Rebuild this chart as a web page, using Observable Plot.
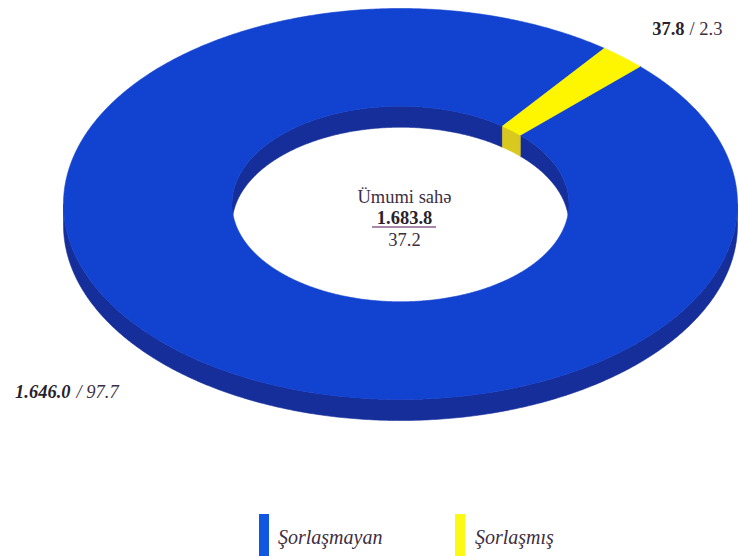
<!DOCTYPE html>
<html>
<head>
<meta charset="utf-8">
<script src="https://cdn.jsdelivr.net/npm/d3@7"></script>
<script src="https://cdn.jsdelivr.net/npm/@observablehq/plot@0.6"></script>
<style>
  html, body { margin: 0; padding: 0; background: #ffffff; }
  #chart { width: 739px; height: 556px; overflow: hidden; font-family: "Liberation Serif", "DejaVu Serif", serif; }
  #chart svg { display: block; }
</style>
</head>
<body>
<div id="chart"></div>
<script>
// ---------- data ----------
const categories = ["Şorlaşmayan", "Şorlaşmış"];
const areaValues = [1646.0, 37.8];          // min ha
const shareValues = [97.7, 2.3];            // %
const areaLabels = ["1.646.0", "37.8"];
const shareLabels = ["97.7", "2.3"];
const totalTitle = "Ümumi sahə";
const totalLabel = "1.683.8";
const totalShareLabel = "37.2";

// ---------- styles ----------
const topColors = ["#1242d0", "#fdf600"];
const sideColors = ["#152e9a", "#d9c81e"];
const legendColors = ["#1257e2", "#fcfa14"];
const textColor = "#3e2e42";
const boldColor = "#2a1f2d";
const font = "'Liberation Serif', 'DejaVu Serif', serif";

// ---------- layout (pixels) ----------
const W = 739, H = 500;
const cx = 400, cy = 203.5, rx = 337, ry = 195.5;
const thickPx = 21, innerR = 0.5, startDeg = 45.3;
const tU = thickPx / ry;
const ux = px => (px - cx) / rx;
const uy = py => (cy - py) / ry;

// ---------- geometry from data ----------
const total = d3.sum(areaValues);
let acc = startDeg;
const slices = categories.map((c, i) => {
  const a0 = acc;
  const a1 = acc + 360 * areaValues[i] / total;
  acc = a1;
  return {i, c, a0, a1};
});

const pt = (r, deg, drop) => {
  const t = deg * Math.PI / 180;
  return {x: r * Math.sin(t), y: r * Math.cos(t) - drop};
};
const arc = (r, from, to, drop) => {
  const n = Math.max(2, Math.ceil(Math.abs(to - from) / 0.5));
  return d3.range(n + 1).map(k => pt(r, from + (to - from) * k / n, drop));
};
const clip = (a0, a1, lo, hi) => {
  const out = [];
  for (let k = -2; k <= 3; k++) {
    const s = Math.max(a0, lo + 360 * k), e = Math.min(a1, hi + 360 * k);
    if (e > s) out.push([s, e]);
  }
  return out;
};

const polys = [];
let pid = 0;
function addPoly(points, fill) {
  const id = pid++;
  points.push(points[0]);
  points.forEach(p => polys.push({x: p.x, y: p.y, id, fill}));
}

// inner back wall (visible through hole, upper half)
slices.forEach(s => {
  clip(s.a0, s.a1, -90, 90).forEach(([b0, b1]) => {
    addPoly([...arc(innerR, b0, b1, 0), ...arc(innerR, b1, b0, tU)], sideColors[s.i]);
  });
});
// outer front side (lower half)
slices.forEach(s => {
  clip(s.a0, s.a1, 90, 270).forEach(([b0, b1]) => {
    addPoly([...arc(1, b0, b1, 0), ...arc(1, b1, b0, tU)], sideColors[s.i]);
  });
});
// top surface ring
slices.forEach(s => {
  addPoly([...arc(1, s.a0, s.a1, 0), ...arc(innerR, s.a1, s.a0, 0)], topColors[s.i]);
});

const txt = {fontFamily: font, fontSize: 18.5, lineAnchor: "bottom"};

const plot = Plot.plot({
  width: W, height: H,
  margin: 0,
  x: {domain: [-1, 1], range: [cx - rx, cx + rx], axis: null},
  y: {domain: [-1, 1], range: [cy + ry, cy - ry], axis: null},
  color: {type: "identity"},
  style: {background: "#ffffff", fontFamily: font},
  marks: [
    Plot.line(polys, {x: "x", y: "y", z: "id", fill: "fill", stroke: "fill", strokeWidth: 0.6, curve: "linear"}),
    // centre labels
    Plot.text([totalTitle], {...txt, x: () => 0, y: () => uy(202), dx: 4, text: d => d, fill: textColor, textAnchor: "middle"}),
    Plot.text([totalLabel], {...txt, x: () => 0, y: () => uy(223), dx: 4, text: d => d, fill: boldColor, fontWeight: "bold", textAnchor: "middle"}),
    Plot.ruleY([uy(226.5)], {y: d => d, x1: ux(372), x2: ux(436), stroke: "#8e5e8e", strokeWidth: 1.3}),
    Plot.text([totalShareLabel], {...txt, x: () => 0, y: () => uy(245), dx: 4, text: d => d, fill: textColor, textAnchor: "middle"}),
    // slice labels
    Plot.text([areaLabels[1]], {...txt, frameAnchor: "top-left", dx: 684, dy: 34, text: d => d, fill: boldColor, fontWeight: "bold", textAnchor: "end"}),
    Plot.text(["/ " + shareLabels[1]], {...txt, frameAnchor: "top-left", dx: 689, dy: 34, text: d => d, fill: textColor, textAnchor: "start"}),
    Plot.text([areaLabels[0]], {...txt, frameAnchor: "top-left", dx: 70, dy: 397, text: d => d, fill: boldColor, fontWeight: "bold", fontStyle: "italic", textAnchor: "end"}),
    Plot.text(["/ " + shareLabels[0]], {...txt, frameAnchor: "top-left", dx: 76, dy: 397, text: d => d, fill: textColor, fontStyle: "italic", textAnchor: "start"})
  ]
});

const chart = document.getElementById("chart");
chart.appendChild(plot);

// ---------- legend below ----------
const legendPos = [{bar: 259, text: 278}, {bar: 455, text: 475}];
const leg = d3.create("svg").attr("width", W).attr("height", 56);
categories.forEach((c, i) => {
  leg.append("rect").attr("x", legendPos[i].bar).attr("y", 14).attr("width", 10).attr("height", 42).attr("fill", legendColors[i]);
  leg.append("text").attr("x", legendPos[i].text).attr("y", 44)
    .attr("font-family", font).attr("font-style", "italic").attr("font-size", 20)
    .attr("fill", textColor).text(c);
});
chart.appendChild(leg.node());
</script>
</body>
</html>
